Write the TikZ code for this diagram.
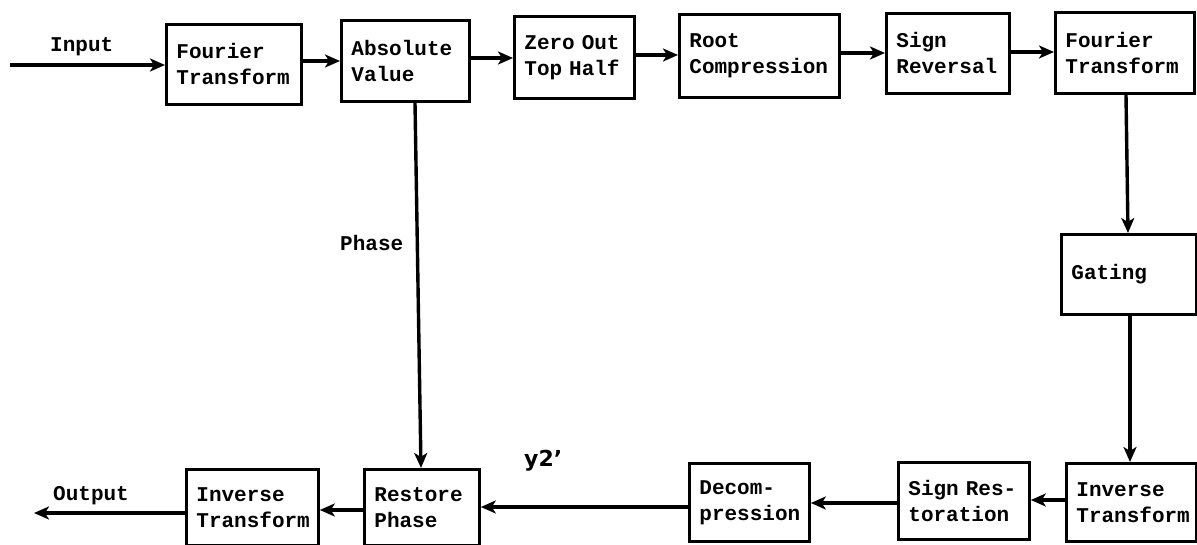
\documentclass[tikz,border=0pt]{standalone}
\usepackage{fontspec}
\setmonofont{Liberation Mono}
\setsansfont{DejaVu Sans}
\usetikzlibrary{arrows.meta}
\begin{document}
\begin{tikzpicture}[x=1pt,y=-1pt,
  blk/.style={draw, line width=2.8pt, anchor=north west, inner xsep=10pt, inner ysep=2pt,
     align=left, font=\fontsize{21}{26}\selectfont\ttfamily\bfseries},
  lbl/.style={anchor=base west, inner sep=0pt, font=\fontsize{21}{26}\selectfont\ttfamily\bfseries},
  arr/.style={line width=3.4pt, -{Stealth[length=15pt,width=13pt,inset=4pt]}}]
\useasboundingbox (0,0) rectangle (1197,545);
% top row
\node[blk, text width=115pt, minimum height=80pt] (ft1) at (165,23) {Fourier\\Transform};
\node[blk, text width=108pt, minimum height=81pt] (abs) at (340,19) {Absolute\\Value};
\node[blk, text width=100pt, minimum height=82pt] (zero) at (513,15) {Zero Out\\Top Half};
\node[blk, text width=140pt, minimum height=83pt] (root) at (678,13) {Root\\Compression};
\node[blk, text width=103pt, minimum height=80pt] (sign) at (885,12) {Sign\\Reversal};
\node[blk, text width=119pt, minimum height=81pt] (ft2) at (1054,11) {Fourier\\Transform};
% right column
\node[blk, text width=115pt, minimum height=80pt] (gate) at (1060,233) {Gating};
% bottom row
\node[blk, text width=110pt, minimum height=78pt] (invr) at (1065,462) {Inverse\\Transform};
\node[blk, text width=111pt, minimum height=77pt] (sres) at (897,461) {Sign Res-\\toration};
\node[blk, text width=100pt, minimum height=78pt] (dec) at (688,462) {Decom-\\pression};
\node[blk, text width=95pt, minimum height=76pt] (rest) at (363,468) {Restore\\Phase};
\node[blk, text width=112pt, minimum height=76pt] (invl) at (185,468) {Inverse\\Transform};
% labels
\node[lbl] (inlbl) at (50,52) {Input};
\node[lbl] (phlbl) at (340,251) {Phase};
\node[lbl] (outlbl) at (53,500) {Output};
\node[anchor=base west, inner sep=0pt, font=\fontsize{22}{26}\selectfont\sffamily\bfseries] (ylbl) at (524,466) {y2'};
% free ends
\coordinate (in) at (10,65);
\coordinate (out) at (34,513);
% connectors
\draw[arr] (in) -- (ft1.west |- in);
\draw[arr] (ft1.east |- 0,61) -- (abs.west |- 0,61);
\draw[arr] (abs.east |- 0,58) -- (zero.west |- 0,58);
\draw[arr] (zero.east |- 0,55) -- (root.west |- 0,55);
\draw[arr] (root.east |- 0,53) -- (sign.west |- 0,53);
\draw[arr] (sign.east |- 0,52) -- (ft2.west |- 0,52);
\draw[arr] (ft2.south -| 1126,0) -- (gate.north -| 1128,0);
\draw[arr] (gate.south -| 1130,0) -- (invr.north -| 1130,0);
\draw[arr] (invr.west |- 0,500) -- (sres.east |- 0,500);
\draw[arr] (sres.west |- 0,503) -- (dec.east |- 0,503);
\draw[arr] (dec.west |- 0,507) -- (rest.east |- 0,507);
\draw[arr] (abs.south -| 415,0) -- (rest.north -| 421,0);
\draw[arr] (rest.west |- 0,510) -- (invl.east |- 0,510);
\draw[arr] (invl.west |- out) -- (out);
\end{tikzpicture}
\end{document}
